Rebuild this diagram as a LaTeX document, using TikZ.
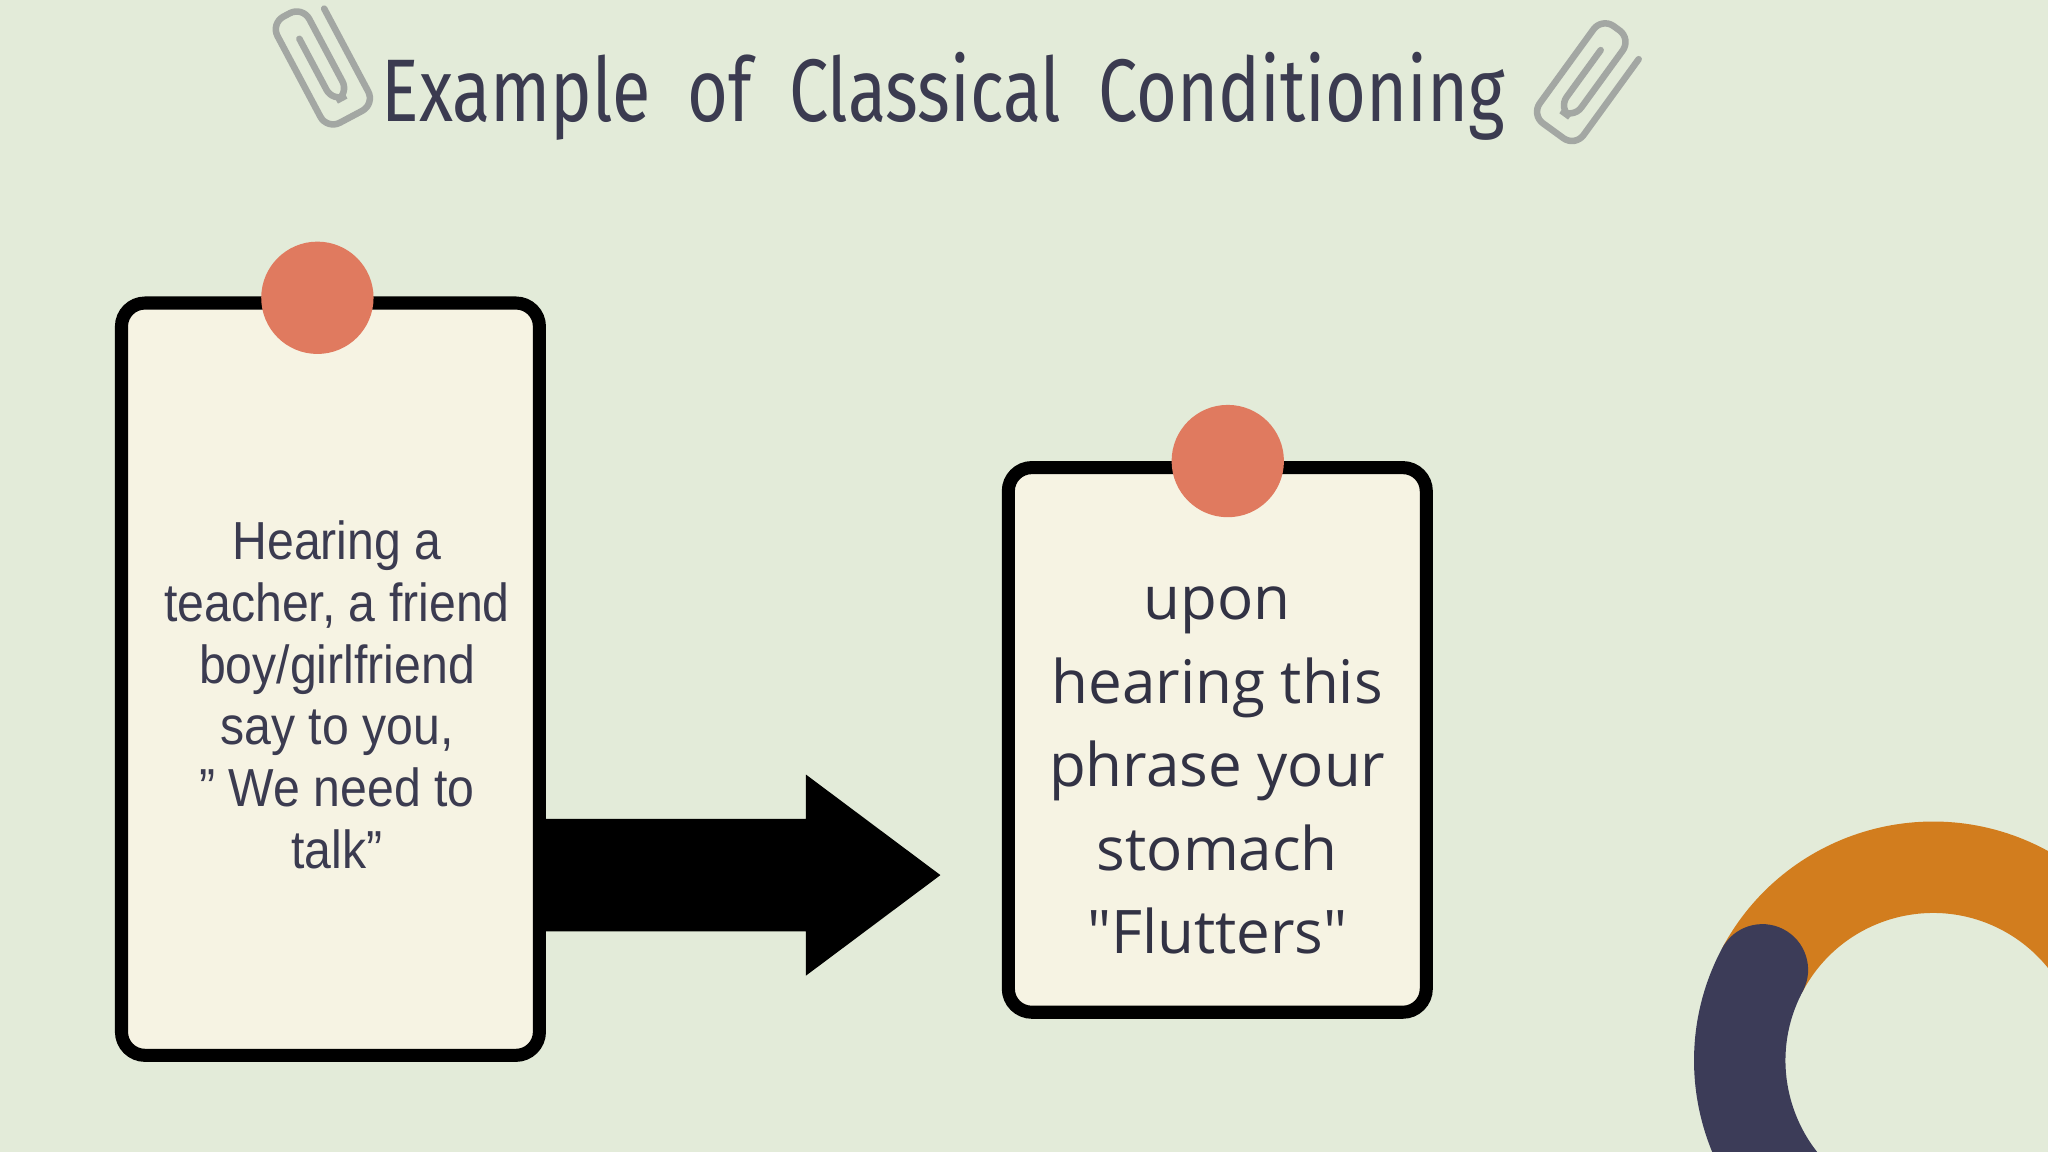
\documentclass[tikz,border=0pt]{standalone}
\usepackage{fontspec}
\setmainfont{Liberation Sans}
\newfontfamily\opensans{Open Sans}
\newfontfamily\titlefont{Fira Sans}
\definecolor{bg}{HTML}{E3EBD9}
\definecolor{card}{HTML}{F6F3E3}
\definecolor{pin}{HTML}{E07A5F}
\definecolor{ink}{HTML}{3B3B50}
\definecolor{clip}{HTML}{A3A7A3}
\definecolor{ringo}{HTML}{D27D1E}
\definecolor{ringn}{HTML}{3C3C58}
\begin{document}
\begin{tikzpicture}[x=0.5pt,y=-0.5pt,
  cardbox/.style={draw=black,line width=5pt,fill=card,rounded corners=9pt},
  pinc/.style={fill=pin,circle,inner sep=0pt,minimum size=43pt},
  clipline/.style={draw=clip,line width=2.5pt,line cap=round,rounded corners=5.5pt}]
\fill[bg] (0,0) rectangle (1568,882);
\useasboundingbox (0,0) rectangle (1568,882);
\clip (0,0) rectangle (1568,882);
% ring
\draw[ringo,line width=35pt] (1480,812) ++(-152:148) arc[start angle=-152,end angle=10,radius=148];
\draw[ringn,line width=35pt,line cap=round] (1480,812) ++(-152:148) arc[start angle=-152,end angle=-240,radius=148];
% title
\node[text=ink,font=\titlefont\fontsize{34}{40}\selectfont,xscale=0.79] (title) at (722,74) {Example\ \ of\ \ Classical\ \ Conditioning};
% paperclips
\begin{scope}[shift={(240,50)},rotate=28,scale=1.15]
\draw[clipline] (0,-20) -- (0,28) -- (12,28) -- (12,-38) -- (-12,-38) -- (-12,42) -- (24,42) -- (24,-30);
\end{scope}
\begin{scope}[shift={(1212,57)},rotate=-36,scale=1.15]
\draw[clipline] (0,-20) -- (0,28) -- (12,28) -- (12,-38) -- (-12,-38) -- (-12,42) -- (24,42) -- (24,-30);
\end{scope}
% arrow
\fill[black] (412,627) -- (617,627) -- (617,593) -- (720,670) -- (617,747) -- (617,713) -- (412,713) -- cycle;
% cards
\draw[cardbox] (93,232) rectangle (413,808);
\node[pinc] (p1) at (243,228) {};
\draw[cardbox] (772,358) rectangle (1092,775);
\node[pinc] (p2) at (940,353) {};
\node[text=ink,align=center,font=\fontsize{20.5}{23.7}\selectfont,xscale=0.9] (t1) at (258,532)
 {Hearing a\\teacher, a friend\\boy/girlfriend\\say to you,\\" We need to\\talk"};
\node[text=ink!85!black,align=center,font=\opensans\fontsize{23}{32}\selectfont] (t2) at (932,590)
 {upon\\hearing this\\phrase your\\stomach\\"Flutters"};
\end{tikzpicture}
\end{document}
